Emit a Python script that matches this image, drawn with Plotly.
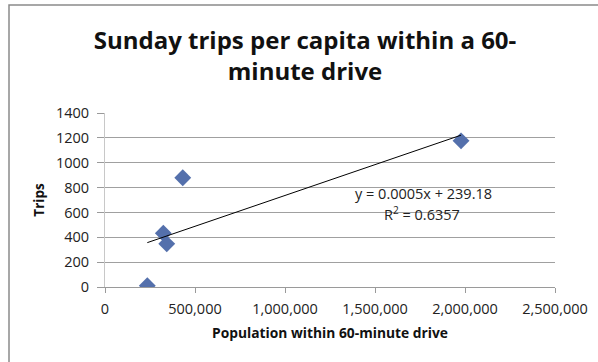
import numpy as np
import plotly.graph_objects as go

population = [235000, 324000, 343000, 432000, 1978000]
trips = [10, 433, 347, 879, 1176]
x_ticks = [0, 500000, 1000000, 1500000, 2000000, 2500000]
x_tick_labels = ["0", "500,000", "1,000,000", "1,500,000", "2,000,000", "2,500,000"]
y_ticks = [0, 200, 400, 600, 800, 1000, 1200, 1400]
equation_text = "y = 0.0005x + 239.18"
r2_text = "R<sup>2</sup> = 0.6357"

slope, intercept = np.polyfit(population, trips, 1)
trend_x = [min(population), max(population)]
trend_y = [slope * v + intercept for v in trend_x]

W, H = 598, 362
L, R, T, B = 105, 43, 113, 75
pw, ph = W - L - R, H - T - B

def px_x(p):
    return (p - L) / pw

def px_y(p):
    return (H - B - p) / ph

font = "'Open Sans', sans-serif"

fig = go.Figure()
fig.add_trace(go.Scatter(
    x=population, y=trips, mode="markers",
    marker=dict(symbol="diamond", size=13, color="#5470AC",
                line=dict(width=0)),
    showlegend=False, hoverinfo="x+y"))
fig.add_trace(go.Scatter(
    x=trend_x, y=trend_y, mode="lines",
    line=dict(color="#000000", width=1),
    showlegend=False, hoverinfo="skip"))

fig.update_layout(
    width=W, height=H,
    margin=dict(l=L, r=R, t=T, b=B, autoexpand=False),
    paper_bgcolor="white", plot_bgcolor="white",
    font=dict(family=font, color="#222222", size=13),
    title=dict(text="Sunday trips per capita within a 60-<br>minute drive",
               x=305 / W, xanchor="center", y=1 - 49 / H, yanchor="middle",
               font=dict(family=font, size=24, color="#111111", weight="bold")),
    xaxis=dict(range=[0, 2500000], tickvals=x_ticks, ticktext=x_tick_labels,
               showgrid=False, zeroline=False, showline=True,
               linecolor="#9A9A9A", linewidth=1,
               ticks="outside", ticklen=5, tickcolor="#9A9A9A",
               ticklabelstandoff=4,
               tickfont=dict(size=14.5, color="#222222"),
               title=dict(text="Population within 60-minute drive", standoff=10,
                          font=dict(size=13.8, color="#111111", weight="bold"))),
    yaxis=dict(range=[0, 1400], tickvals=y_ticks,
               showgrid=True, gridcolor="#A0A0A0", gridwidth=1,
               zeroline=False, showline=True, linecolor="#C8C8C8", linewidth=1,
               ticks="outside", ticklen=7, tickcolor="#9A9A9A",
               ticklabelstandoff=5,
               tickfont=dict(size=14.5, color="#222222"),
               title=dict(text="Trips", standoff=8,
                          font=dict(size=13.5, color="#111111", weight="bold"))),
    annotations=[
        dict(text=equation_text, xref="paper", yref="paper",
             x=px_x(423), y=px_y(193), xanchor="center", yanchor="middle",
             showarrow=False, font=dict(size=14.5, color="#222222")),
        dict(text=r2_text, xref="paper", yref="paper",
             x=px_x(422), y=px_y(213), xanchor="center", yanchor="middle",
             showarrow=False, font=dict(size=14.5, color="#222222")),
    ],
    shapes=[dict(type="rect", xref="paper", yref="paper",
                 x0=px_x(9), x1=px_x(600), y0=px_y(364), y1=px_y(5),
                 line=dict(color="#8A8A8A", width=1.5), fillcolor="rgba(0,0,0,0)",
                 layer="below")],
)

fig.write_html("out.html", config={"displayModeBar": False},
               post_script="document.body.style.margin='0';document.body.style.overflow='hidden';")
